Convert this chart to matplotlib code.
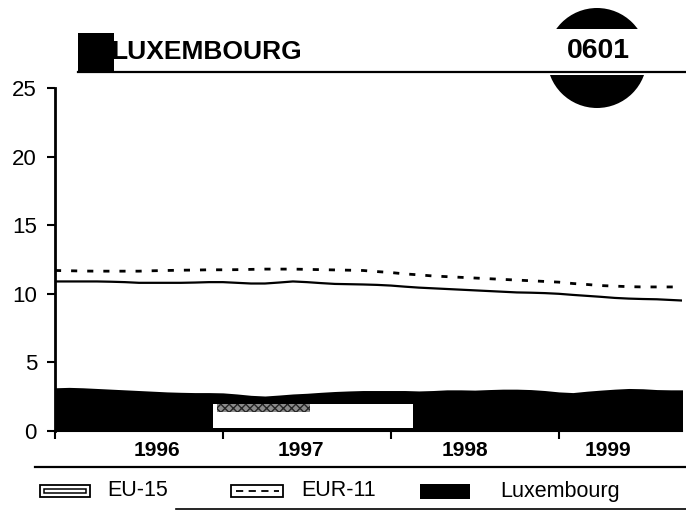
import matplotlib
matplotlib.use("Agg")
import matplotlib.pyplot as plt
from matplotlib.patches import Rectangle, Circle
from matplotlib.lines import Line2D

plt.rcParams['font.family'] = ['Liberation Sans', 'DejaVu Sans']

# ---- data (monthly, Jan 1996 onwards) ----
months = list(range(46))
eu15 = [10.9, 10.9, 10.9, 10.9, 10.88, 10.85, 10.8, 10.8, 10.8, 10.8,
        10.82, 10.85, 10.85, 10.8, 10.75, 10.75, 10.82, 10.9, 10.85, 10.78,
        10.72, 10.7, 10.68, 10.65, 10.6, 10.52, 10.45, 10.4, 10.35, 10.3,
        10.25, 10.2, 10.15, 10.1, 10.08, 10.05, 10.0, 9.92, 9.85, 9.78,
        9.7, 9.65, 9.62, 9.6, 9.55, 9.5]
eur11 = [11.7, 11.68, 11.66, 11.65, 11.65, 11.65, 11.65, 11.68, 11.7, 11.72,
         11.73, 11.75, 11.75, 11.76, 11.78, 11.8, 11.8, 11.8, 11.78, 11.76,
         11.74, 11.72, 11.7, 11.62, 11.55, 11.45, 11.38, 11.3, 11.25, 11.2,
         11.15, 11.1, 11.05, 11.0, 10.95, 10.9, 10.85, 10.75, 10.68, 10.6,
         10.56, 10.52, 10.5, 10.5, 10.5, 10.5]
lux = [3.15, 3.18, 3.15, 3.1, 3.05, 3.0, 2.95, 2.9, 2.85, 2.82,
       2.8, 2.8, 2.78, 2.7, 2.6, 2.55, 2.62, 2.7, 2.75, 2.82,
       2.88, 2.92, 2.95, 2.95, 2.95, 2.95, 2.92, 2.95, 3.0, 3.0,
       2.98, 3.02, 3.05, 3.05, 3.02, 2.95, 2.85, 2.8, 2.9, 2.98,
       3.05, 3.1, 3.08, 3.02, 3.0, 3.0]
year_labels = ['1996', '1997', '1998', '1999']
year_label_pos = [7.3, 17.6, 29.3, 39.5]
year_ticks = [0, 12, 24, 36]
y_ticks = [0, 5, 10, 15, 20, 25]

W, H = 686, 511
fig = plt.figure(figsize=(W / 100, H / 100), dpi=100)
ax = fig.add_axes([55 / W, 1 - 431 / H, 627 / W, 343 / H])
ax.set_facecolor('none')

ax.fill_between(months, 0, lux, color='black', linewidth=0, zorder=2)
ax.plot(months, eu15, color='black', lw=1.6, zorder=3)
ax.plot(months, eur11, color='black', lw=2.0, dashes=(2.2, 3.6), zorder=3)

# scanned-page blemish inside the Luxembourg area
ax.add_patch(Rectangle((11.3, 0.2), 14.3, 1.77, facecolor='white', edgecolor='none', zorder=2.5))
ax.add_patch(Rectangle((11.6, 1.35), 6.6, 0.62, facecolor='0.55', edgecolor='0.15',
                       hatch='xxxx', linewidth=0, zorder=2.6))

ax.set_xlim(0, 44.8)
ax.set_ylim(0, 25)
ax.set_yticks(y_ticks)
ax.set_xticks(year_ticks)
ax.set_xticklabels([])
ax.set_xticks(year_label_pos, minor=True)
ax.set_xticklabels(year_labels, minor=True, fontsize=15, fontweight='bold')
ax.tick_params(axis='x', which='minor', length=0, pad=7)
ax.tick_params(axis='x', which='major', length=6, width=1.5, direction='out')
ax.tick_params(axis='y', length=6, width=1.5, labelsize=16, pad=7)
for s in ['top', 'right']:
    ax.spines[s].set_visible(False)
ax.spines['left'].set_linewidth(2.0)
ax.spines['bottom'].set_linewidth(1.5)

# ---- header & legend decorations (pixel coordinates) ----
ov = fig.add_axes([0, 0, 1, 1], zorder=5)
ov.set_xlim(0, W)
ov.set_ylim(H, 0)
ov.axis('off')
ov.patch.set_alpha(0)

ov.add_patch(Circle((597, 58), 50, facecolor='black', edgecolor='none'))
ov.add_patch(Rectangle((540, 29), 120, 46, facecolor='white', edgecolor='none'))
ov.add_artist(Line2D([78, 686], [72, 72], color='black', lw=1.6))
ov.text(111, 52, 'LUXEMBOURG', fontsize=19, fontweight='bold', ha='left', va='center')
ov.add_patch(Rectangle((78, 33), 36, 39, facecolor='black', edgecolor='none'))
ov.text(598, 51, '0601', fontsize=20.5, fontweight='bold', ha='center', va='center')

# legend rules
ov.add_artist(Line2D([35, 686], [467, 467], color='black', lw=1.6))
ov.add_artist(Line2D([176, 686], [509, 509], color='black', lw=1.2))
ly = 491
ov.add_patch(Rectangle((40, ly - 6), 50, 12, facecolor='white', edgecolor='black', lw=1.3))
ov.add_patch(Rectangle((44, ly - 2), 42, 4, facecolor='white', edgecolor='black', lw=1.1))
ov.text(107, ly, 'EU-15', fontsize=15.5, ha='left', va='center')
ov.add_patch(Rectangle((231, ly - 6), 52, 12, facecolor='white', edgecolor='black', lw=1.3))
ov.add_artist(Line2D([236, 279], [ly, ly], color='black', lw=1.3, dashes=(4, 3)))
ov.text(301, ly, 'EUR-11', fontsize=15.5, ha='left', va='center')
ov.add_patch(Rectangle((420, ly - 7), 50, 15, facecolor='black', edgecolor='none'))
ov.text(500, ly, 'Luxembourg', fontsize=15.5, ha='left', va='center')

fig.savefig('out.png', dpi=100)
